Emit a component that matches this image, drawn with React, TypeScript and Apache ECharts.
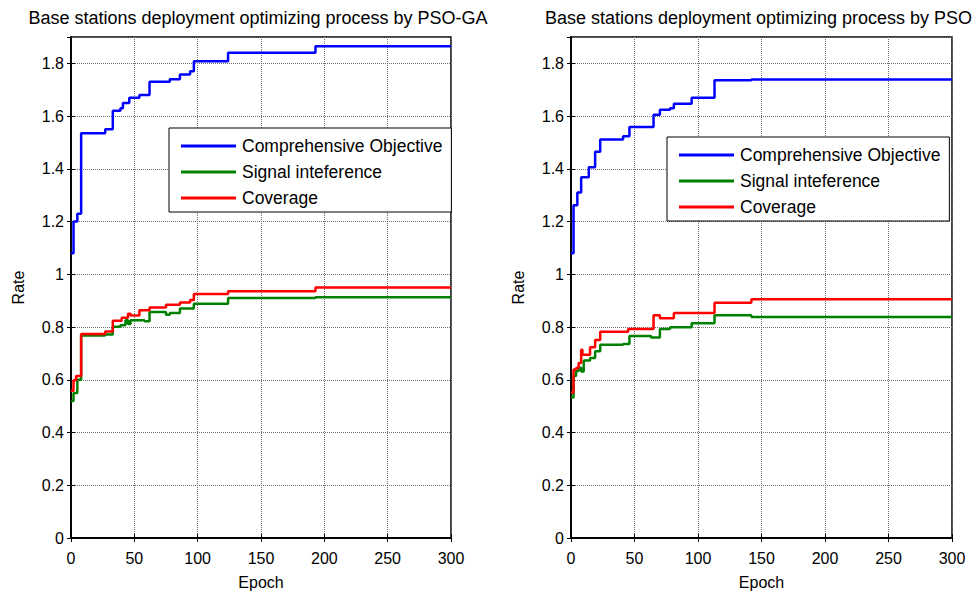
import React, { useEffect, useRef } from "react";
import * as echarts from "echarts";

// ---------- data ----------
const titles = [
  "Base stations deployment optimizing process by PSO-GA",
  "Base stations deployment optimizing process by PSO",
];
const seriesNames = ["Comprehensive Objective", "Signal inteference", "Coverage"];
const seriesColors = ["#0000ff", "#008000", "#ff0000"];

// PSO-GA (left)
const gaObjEpoch = [0, 2, 5, 8, 27, 33, 39, 41, 46, 54, 62, 78, 86, 94, 97, 124, 193, 300];
const gaObjValue = [1.08, 1.2, 1.23, 1.535, 1.55, 1.62, 1.63, 1.65, 1.67, 1.68, 1.73, 1.74, 1.758, 1.77, 1.808, 1.84, 1.865, 1.865];

const gaSigEpoch = [0, 2, 5, 8, 27, 33, 39, 43, 45, 47, 58, 62, 75, 78, 86, 97, 124, 193, 300];
const gaSigValue = [0.52, 0.55, 0.6, 0.768, 0.772, 0.801, 0.807, 0.826, 0.812, 0.826, 0.822, 0.857, 0.847, 0.853, 0.87, 0.888, 0.91, 0.913, 0.913];

const gaCovEpoch = [0, 2, 4, 8, 27, 33, 40, 45, 47, 54, 62, 75, 86, 94, 97, 124, 193, 300];
const gaCovValue = [0.558, 0.598, 0.614, 0.774, 0.783, 0.824, 0.835, 0.85, 0.844, 0.864, 0.874, 0.885, 0.893, 0.903, 0.925, 0.936, 0.95, 0.95];

// PSO (right)
const psoObjEpoch = [0, 2, 5, 8, 14, 19, 23, 41, 46, 65, 70, 78, 81, 95, 113, 142, 300];
const psoObjValue = [1.08, 1.262, 1.31, 1.368, 1.406, 1.465, 1.511, 1.524, 1.559, 1.605, 1.624, 1.63, 1.647, 1.67, 1.736, 1.739, 1.739];

const psoSigEpoch = [0, 2, 4, 6, 8, 10, 15, 19, 23, 41, 46, 63, 70, 78, 95, 113, 142, 300];
const psoSigValue = [0.533, 0.614, 0.633, 0.646, 0.631, 0.673, 0.683, 0.708, 0.733, 0.736, 0.766, 0.76, 0.793, 0.799, 0.814, 0.845, 0.838, 0.838];

const psoCovEpoch = [0, 2, 4, 6, 8, 9, 15, 19, 23, 45, 65, 70, 81, 113, 142, 300];
const psoCovValue = [0.552, 0.639, 0.645, 0.664, 0.714, 0.695, 0.723, 0.751, 0.782, 0.793, 0.845, 0.833, 0.853, 0.892, 0.905, 0.905];

const panels = [
  { epochs: [gaObjEpoch, gaSigEpoch, gaCovEpoch], values: [gaObjValue, gaSigValue, gaCovValue] },
  { epochs: [psoObjEpoch, psoSigEpoch, psoCovEpoch], values: [psoObjValue, psoSigValue, psoCovValue] },
];

const FONT = "'Liberation Sans', Arial, Helvetica, sans-serif";

export default function App() {
  const ref = useRef<HTMLDivElement>(null);
  useEffect(() => {
    if (!ref.current) return;
    const chart = echarts.init(ref.current, undefined, { renderer: "svg" });

    const gridLeft = [71, 571];
    const gridWidth = [380, 381];
    const gridTop = 37;
    const gridHeight = 509;

    const grids: any[] = [];
    const xAxes: any[] = [];
    const yAxes: any[] = [];
    const series: any[] = [];
    const titleOpts: any[] = [];
    const legends: any[] = [];

    const tickStyle = { show: true, inside: true, length: 4, lineStyle: { color: "#000", width: 1 } };
    const lineAx = { show: true, lineStyle: { color: "#000", width: 1.5 } };
    const splitLine = { show: true, lineStyle: { color: "#707070", type: "dotted", width: 1 } };
    const labelStyle = { color: "#000", fontFamily: FONT, fontSize: 16 };

    panels.forEach((p, i) => {
      grids.push({
        left: gridLeft[i],
        top: gridTop,
        width: gridWidth[i],
        height: gridHeight,
        show: true,
        borderColor: "#000",
        borderWidth: 1.5,
        backgroundColor: "#fff",
      });
      xAxes.push({
        type: "value",
        gridIndex: i,
        min: 0,
        max: 300,
        interval: 50,
        position: "bottom",
        axisLine: lineAx,
        axisTick: tickStyle,
        splitLine,
        axisLabel: { ...labelStyle, margin: 12 },
        name: "Epoch",
        nameLocation: "middle",
        nameGap: 36,
        nameTextStyle: { ...labelStyle },
      });
      xAxes.push({
        type: "value",
        gridIndex: i,
        min: 0,
        max: 300,
        interval: 50,
        position: "top",
        axisLine: lineAx,
        axisTick: tickStyle,
        splitLine: { show: false },
        axisLabel: { show: false },
      });
      yAxes.push({
        type: "value",
        gridIndex: i,
        min: 0,
        max: 1.9,
        interval: 0.2,
        position: "left",
        axisLine: lineAx,
        axisTick: tickStyle,
        splitLine,
        axisLabel: { ...labelStyle, margin: 7, showMaxLabel: false },
        name: "Rate",
        nameLocation: "middle",
        nameGap: 45,
        nameRotate: 90,
        nameTextStyle: { ...labelStyle },
      });
      yAxes.push({
        type: "value",
        gridIndex: i,
        min: 0,
        max: 1.9,
        interval: 0.2,
        position: "right",
        axisLine: lineAx,
        axisTick: tickStyle,
        splitLine: { show: false },
        axisLabel: { show: false },
      });

      seriesNames.forEach((name, k) => {
        series.push({
          type: "line",
          name,
          xAxisIndex: i * 2,
          yAxisIndex: i * 2,
          step: "end",
          showSymbol: false,
          symbol: "none",
          color: seriesColors[k],
          lineStyle: { color: seriesColors[k], width: 2.5 },
          itemStyle: { color: seriesColors[k] },
          data: p.epochs[k].map((e, j) => [e, p.values[k][j]]),
          z: 3 + k,
        });
      });

      titleOpts.push({
        text: titles[i],
        left: gridLeft[i] + gridWidth[i] / 2 - 3,
        textAlign: "center",
        top: 9,
        padding: 0,
        textStyle: { color: "#000", fontFamily: FONT, fontSize: 18, fontWeight: "normal" },
      });
    });

    const legendPos = [
      { left: 169, top: 128 },
      { left: 667, top: 137 },
    ];
    legendPos.forEach((lp) => {
      legends.push({
        data: seriesNames,
        orient: "vertical",
        left: lp.left,
        top: lp.top,
        padding: [9, 9, 5, 12],
        itemGap: 8,
        itemWidth: 55,
        itemHeight: 3,
        icon: "rect",
        backgroundColor: "#fff",
        borderColor: "#000",
        borderWidth: 1,
        borderRadius: 0,
        selectedMode: false,
        textStyle: { color: "#000", fontFamily: FONT, fontSize: 17.5, lineHeight: 17, padding: [0, 0, 0, 1] },
      });
    });

    chart.setOption({
      animation: false,
      backgroundColor: "#fff",
      title: titleOpts,
      legend: legends,
      grid: grids,
      xAxis: xAxes,
      yAxis: yAxes,
      series,
    });

    return () => chart.dispose();
  }, []);

  return (
    <div
      ref={ref}
      style={{ position: "fixed", left: 0, top: 0, width: 978, height: 595, background: "#fff" }}
    />
  );
}
